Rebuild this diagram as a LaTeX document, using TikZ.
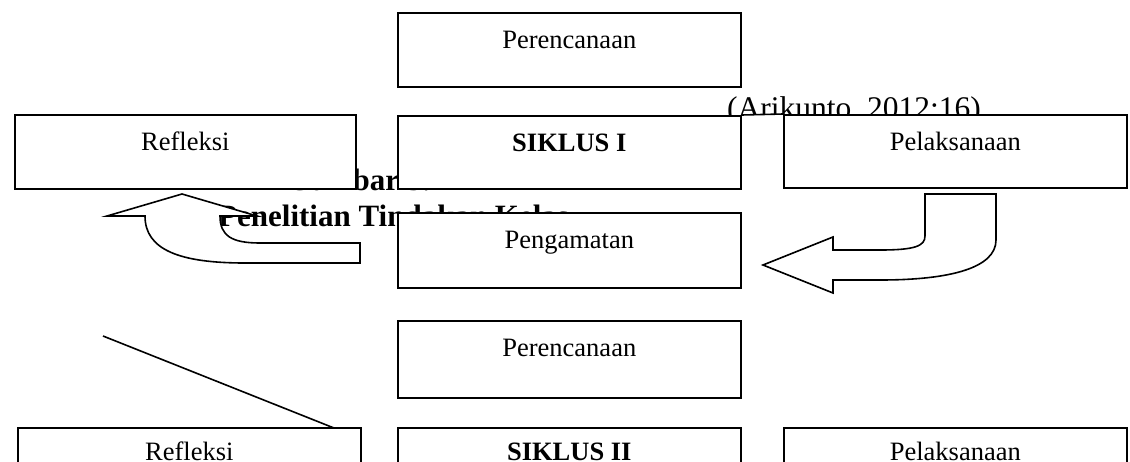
\documentclass[tikz,border=0pt]{standalone}
\usepackage{fontspec}
\setmainfont{Liberation Serif}
\begin{document}
\begin{tikzpicture}[x=1pt,y=-1pt,
  box/.style={draw, fill=white, line width=1.6pt, minimum width=343pt, minimum height=74pt, inner sep=0pt, anchor=north west},
  lbl/.style={anchor=base, inner sep=0pt, font=\fontsize{26.5}{30}\selectfont},
  blbl/.style={lbl, font=\fontsize{26.5}{30}\selectfont\bfseries},
  bigb/.style={anchor=base west, inner sep=0pt, font=\fontsize{31}{36}\selectfont\bfseries},
  bigr/.style={anchor=base west, inner sep=0pt, font=\fontsize{31.5}{36}\selectfont},
  blockarrow/.style={draw, fill=white, line width=1.6pt, line join=miter},
  thin/.style={line width=1.6pt}]
\useasboundingbox (0,0) rectangle (1130,461);
\clip (0,0) rectangle (1130,461);

% caption text under the shapes
\node[bigb] (gam) at (287,190.5) {Gambar 3.1};
\node[bigb] (pen) at (218,226) {Penelitian Tindakan Kelas};
\begin{scope}
  \clip (700,80) rectangle (1000,114);
  \node[bigr] (ari) at (727,118) {(Arikunto, 2012:16)};
\end{scope}

% boxes, cycle I
\node[box] (per1) at (397,12) {};
\node[box, minimum height=73pt] (sik1) at (397,115) {};
\node[box, minimum width=341pt] (ref1) at (14,114) {};
\node[box, minimum height=73pt] (pel1) at (783,114) {};
\node[box, minimum height=75pt] (peng) at (397,212) {};
\draw[thin] (sik1.north east) -- (pel1.north west);

\node[lbl]  (tper1) at ([yshift=-36pt]per1.north) {Perencanaan};
\node[blbl] (tsik1) at ([yshift=-36pt]sik1.north) {SIKLUS I};
\node[lbl]  (tref1) at ([yshift=-36pt]ref1.north) {Refleksi};
\node[lbl]  (tpel1) at ([yshift=-36pt]pel1.north) {Pelaksanaan};
\node[lbl]  (tpeng) at ([yshift=-36pt]peng.north) {Pengamatan};

% boxes, cycle II
\node[box, minimum height=77pt] (per2) at (397,320) {};
\node[box, minimum height=80pt] (ref2) at (17,427) {};
\node[box, minimum height=80pt] (sik2) at (397,427) {};
\node[box, minimum height=80pt] (pel2) at (783,427) {};

\node[lbl]  (tper2) at ([yshift=-36pt]per2.north) {Perencanaan};
\node[lbl]  (tref2) at ([yshift=-33pt]ref2.north) {Refleksi};
\node[blbl] (tsik2) at ([yshift=-33pt]sik2.north) {SIKLUS II};
\node[lbl]  (tpel2) at ([yshift=-33pt]pel2.north) {Pelaksanaan};

% curved block arrow, left (up towards Refleksi)
\draw[blockarrow] (107,216) -- (182,194) -- (257,216) -- (220,216)
  .. controls (220,236) and (232,243) .. (260,243) -- (360,243) -- (360,263) -- (245,263)
  .. controls (180,263) and (145,250) .. (145,216) -- cycle;

% curved block arrow, right (from Pelaksanaan towards Pengamatan)
\draw[blockarrow] (763,265) -- (833,237) -- (833,250) -- (880,250)
  .. controls (915,250) and (925,246) .. (925,236) -- (925,194) -- (996,194) -- (996,240)
  .. controls (996,268) and (950,280) .. (880,280) -- (833,280) -- (833,293) -- cycle;

% diagonal line
\coordinate (d1) at (103,336);
\coordinate (d2) at (334,428);
\draw[thin] (d1) -- (d2);
\end{tikzpicture}
\end{document}
